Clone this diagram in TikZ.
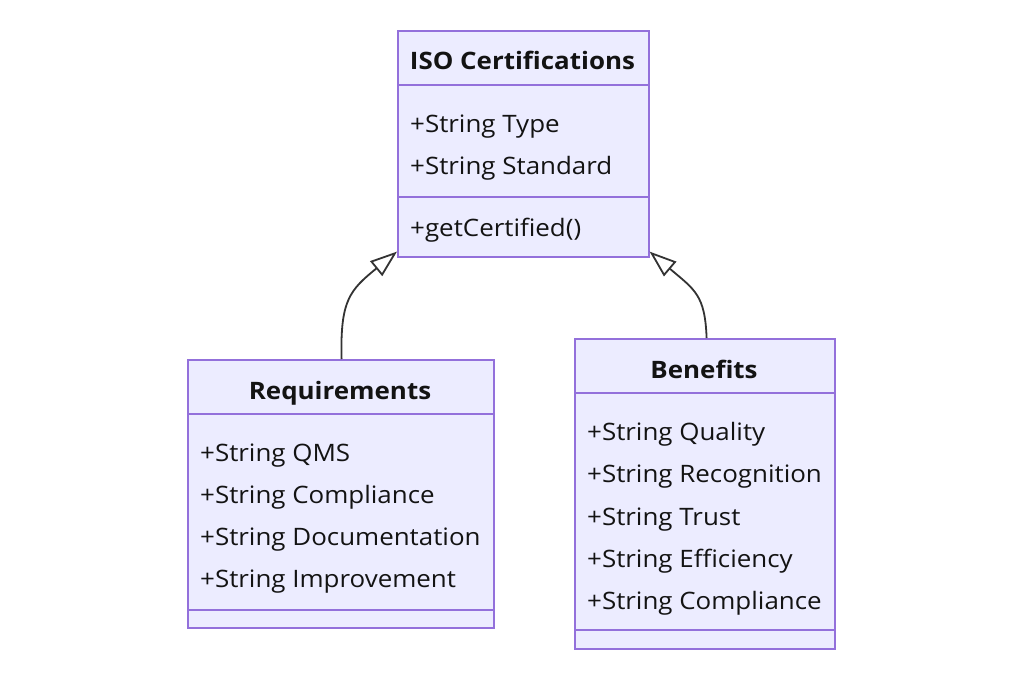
\documentclass[tikz,border=0pt]{standalone}
\usepackage{fontspec}
\usepackage{graphicx}
\setmainfont{Open Sans}
\usetikzlibrary{arrows.meta}
\definecolor{boxfill}{HTML}{ECECFF}
\definecolor{boxline}{HTML}{9370DB}
\definecolor{edge}{HTML}{333333}
\definecolor{txt}{HTML}{131313}
\newcommand{\wtxt}[1]{\scalebox{1.08}[1]{#1}}
\tikzset{
  classbox/.style={draw=boxline, fill=boxfill, line width=1.6pt, inner sep=0pt, anchor=north west},
  sep/.style={draw=boxline, line width=1.6pt},
  attr/.style={anchor=base west, inner sep=0pt, text=txt, font=\fontsize{24}{28}\selectfont},
  ttl/.style={anchor=base, inner sep=0pt, text=txt, font=\fontsize{24}{28}\selectfont\bfseries},
  inherit/.style={draw=edge, line width=1.8pt, -{Triangle[length=27pt,width=19pt,fill=white,line width=1.8pt]}}
}
\begin{document}
\begin{tikzpicture}[x=1pt,y=-1pt]
\useasboundingbox[fill=white] (0,0) rectangle (1024,674);
% ISO Certifications
\node[classbox, minimum width=251pt, minimum height=226pt] (iso) at (397,30) {};
\draw[sep] (397,85) -- (648,85);
\draw[sep] (397,197) -- (648,197);
\node[ttl] (isot) at (522.5,70) {\wtxt{ISO Certifications}};
\node[attr] (iso1) at (410,132) {\wtxt{+String Type}};
\node[attr] (iso2) at (410,174) {\wtxt{+String Standard}};
\node[attr] (iso3) at (410,236) {\wtxt{+getCertified()}};
% Requirements
\node[classbox, minimum width=306pt, minimum height=268pt] (req) at (187,359) {};
\draw[sep] (187,414) -- (493,414);
\draw[sep] (187,610) -- (493,610);
\node[ttl] (reqt) at (340,399) {\wtxt{Requirements}};
\node[attr] (req1) at (200,461) {\wtxt{+String QMS}};
\node[attr] (req2) at (200,503) {\wtxt{+String Compliance}};
\node[attr] (req3) at (200,545) {\wtxt{+String Documentation}};
\node[attr] (req4) at (200,587) {\wtxt{+String Improvement}};
% Benefits
\node[classbox, minimum width=260pt, minimum height=310pt] (ben) at (574,338) {};
\draw[sep] (574,393) -- (834,393);
\draw[sep] (574,630) -- (834,630);
\node[ttl] (bent) at (704,378) {\wtxt{Benefits}};
\node[attr] (ben1) at (587,440) {\wtxt{+String Quality}};
\node[attr] (ben2) at (587,482) {\wtxt{+String Recognition}};
\node[attr] (ben3) at (587,525) {\wtxt{+String Trust}};
\node[attr] (ben4) at (587,567) {\wtxt{+String Efficiency}};
\node[attr] (ben5) at (587,609) {\wtxt{+String Compliance}};
% inheritance arrows
\coordinate (rs) at ([xshift=-153pt]req.north east);
\coordinate (bs) at ([xshift=-129pt]ben.north east);
\coordinate (it1) at ([yshift=6pt]iso.south west);
\coordinate (it2) at ([yshift=6pt]iso.south east);
\draw[inherit] (rs) .. controls (340,300) and (350,290) .. (it1);
\draw[inherit] (bs) .. controls (705,295) and (695,290) .. (it2);
\end{tikzpicture}
\end{document}
